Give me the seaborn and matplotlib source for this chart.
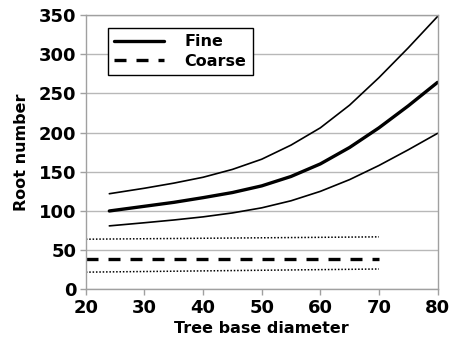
import matplotlib
matplotlib.use("Agg")
import matplotlib.pyplot as plt
import seaborn as sns
import pandas as pd

# ---- data ----
fine_x = [24, 30, 35, 40, 45, 50, 55, 60, 65, 70, 75, 80]
fine_mean = [100, 106, 111, 117, 123.5, 132, 144, 160, 181, 206, 234, 264]
fine_upper = [122, 129, 135.5, 143, 153, 166, 184, 206, 235, 270, 308, 348]
fine_lower = [81, 85, 88.5, 92.5, 97.5, 104, 113, 125, 140, 158, 178, 199]

coarse_x = [20, 70]
coarse_mean = [39, 39]
coarse_upper = [64, 67]
coarse_lower = [22, 26]

x_ticks = [20, 30, 40, 50, 60, 70, 80]
y_ticks = [0, 50, 100, 150, 200, 250, 300, 350]

sns.set_theme(style="white")
plt.rcParams['font.family'] = ['DejaVu Sans']
plt.rcParams['font.weight'] = 'bold'
plt.rcParams['text.color'] = 'black'
plt.rcParams['axes.labelcolor'] = 'black'

fig = plt.figure(figsize=(4.52, 3.47), dpi=100)
ax = fig.add_axes([0.190, 0.166, 0.778, 0.791])

def df(x, y):
    return pd.DataFrame({"x": x, "y": y})

sns.lineplot(data=df(fine_x, fine_upper), x="x", y="y", ax=ax, color="black", lw=1.2)
sns.lineplot(data=df(fine_x, fine_lower), x="x", y="y", ax=ax, color="black", lw=1.2)
sns.lineplot(data=df(fine_x, fine_mean), x="x", y="y", ax=ax, color="black", lw=2.4, label="Fine")
sns.lineplot(data=df(coarse_x, coarse_upper), x="x", y="y", ax=ax, color="black", lw=1.1)
ax.lines[-1].set_dashes([1, 1.2])
sns.lineplot(data=df(coarse_x, coarse_lower), x="x", y="y", ax=ax, color="black", lw=1.1)
ax.lines[-1].set_dashes([1, 1.2])
sns.lineplot(data=df(coarse_x, coarse_mean), x="x", y="y", ax=ax, color="black", lw=2.4, label="Coarse")
ax.lines[-1].set_dashes([3.6, 3.0])

ax.set_xlim(20, 80)
ax.set_ylim(0, 350)
ax.set_xticks(x_ticks)
ax.set_yticks(y_ticks)
ax.set_xticklabels([str(v) for v in x_ticks], fontsize=13, fontweight='bold')
ax.set_yticklabels([str(v) for v in y_ticks], fontsize=13, fontweight='bold')
ax.set_xlabel("Tree base diameter", fontsize=11.5, fontweight='bold', labelpad=3, color='black')
ax.set_ylabel("Root number", fontsize=11.5, fontweight='bold', labelpad=7, color='black')

ax.yaxis.grid(True, color="#b8b8b8", lw=1.0)
ax.xaxis.grid(False)
ax.set_axisbelow(True)
for s in ax.spines.values():
    s.set_color("#a0a0a0")
    s.set_linewidth(1.0)
ax.tick_params(axis='both', direction='out', length=4, width=1, color="#a0a0a0",
               labelcolor="black", pad=3, bottom=True, left=True)

leg = ax.legend(loc="upper left", bbox_to_anchor=(0.063, 0.953), borderaxespad=0,
                frameon=True, fancybox=False, edgecolor="black", framealpha=1,
                handlelength=3.1, handletextpad=1.3, borderpad=0.4, labelspacing=0.3,
                prop={'size': 11.5, 'weight': 'bold'})
leg.get_frame().set_linewidth(1.0)
for h in leg.get_lines():
    h.set_linewidth(2.4)
for t in leg.get_texts():
    t.set_color('black')

fig.savefig("out.png", dpi=100)
